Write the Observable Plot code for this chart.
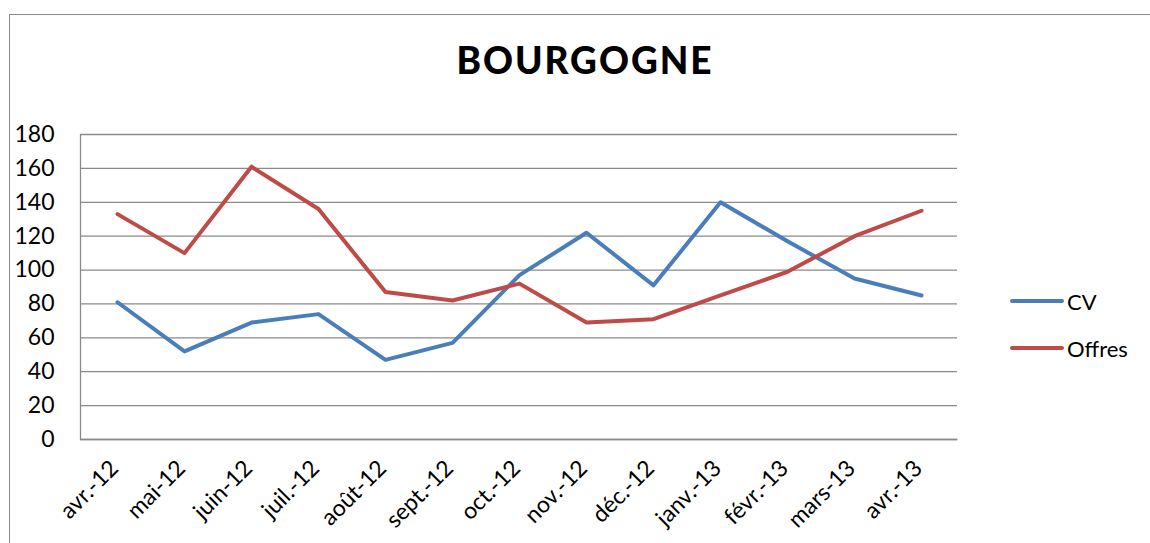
<!DOCTYPE html>
<html><head><meta charset="utf-8">
<script src="https://cdn.jsdelivr.net/npm/d3@7"></script>
<script src="https://cdn.jsdelivr.net/npm/@observablehq/plot@0.6"></script>
<style>
body{margin:0;background:#fff;font-family:Lato,"Open Sans",sans-serif;}
#wrap{position:relative;width:1150px;height:543px;overflow:hidden;background:#fff;}
#frame{position:absolute;left:9px;top:14px;width:1300px;height:700px;border:1.5px solid #8a8a8a;box-sizing:border-box;}
#title{position:absolute;left:0;top:38px;width:1170px;text-align:center;font-weight:900;font-size:37px;letter-spacing:2px;color:#000;line-height:44px;}
#chart{position:absolute;left:0;top:0;}
.leg{position:absolute;left:1010px;display:flex;align-items:center;font-size:22px;color:#000;height:30px;}
.leg svg{display:block;margin-right:3px;}
</style></head>
<body>
<div id="wrap">
  <div id="frame"></div>
  <div id="title">BOURGOGNE</div>
  <div id="chart"></div>
  <div id="legend"></div>
</div>
<script>
const months = ["avr.-12","mai-12","juin-12","juil.-12","août-12","sept.-12","oct.-12","nov.-12","déc.-12","janv.-13","févr.-13","mars-13","avr.-13"];
const cv = [81,52,69,74,47,57,97,122,91,140,117,95,85];
const offres = [133,110,161,136,87,82,92,69,71,85,99,120,135];
const seriesNames = ["CV","Offres"];
const seriesColors = ["#4A7EBB","#BE4B48"];
const yTicks = [0,20,40,60,80,100,120,140,160,180];

const rows = [];
months.forEach((m,i)=>{
  rows.push({month:m, series:"CV", value:cv[i]});
  rows.push({month:m, series:"Offres", value:offres[i]});
});

const W = 1150, H = 543, mL = 80, mR = 193, mT = 134, mB = 104;
const fw = W - mL - mR, fh = H - mT - mB;

const chart = Plot.plot({
  width: W, height: H,
  marginLeft: mL, marginRight: mR, marginTop: mT, marginBottom: mB,
  x: {type: "point", domain: months, padding: 0.5},
  y: {domain: [0, 180]},
  color: {domain: seriesNames, range: seriesColors},
  style: {fontFamily: "Lato, 'Open Sans', sans-serif", fontSize: "23px", color: "#000", background: "transparent", overflow: "visible"},
  marks: [
    Plot.gridY(yTicks, {stroke: "#8a8a8a", strokeOpacity: 1, strokeWidth: 1.3}),
    Plot.frame({stroke: "#8a8a8a", strokeWidth: 1.3, strokeDasharray: `0 ${fw + fh} ${fw + fh}`}),
    Plot.axisY(yTicks, {tickSize: 0, tickPadding: 26, label: null, fontSize: 23}),
    Plot.axisX({tickSize: 0, tickRotate: -45, tickPadding: 25, dx: -3, label: null, fontSize: 23}),
    Plot.line(rows, {x: "month", y: "value", stroke: "series", z: "series", strokeWidth: 4, strokeLinejoin: "round", strokeLinecap: "round"})
  ]
});
document.getElementById("chart").appendChild(chart);

const legend = document.getElementById("legend");
const legTops = [286, 333];
seriesNames.forEach((s,i)=>{
  const d = document.createElement("div");
  d.className = "leg";
  d.style.top = legTops[i] + "px";
  d.innerHTML = `<svg width="54" height="8"><line x1="2" y1="4" x2="52" y2="4" stroke="${seriesColors[i]}" stroke-width="4" stroke-linecap="round"/></svg><span>${s}</span>`;
  legend.appendChild(d);
});
</script>
</body></html>
